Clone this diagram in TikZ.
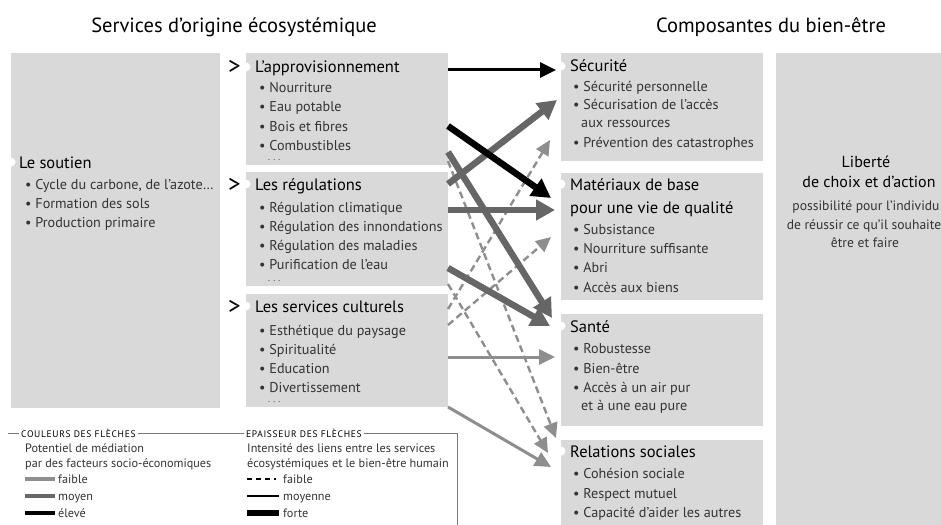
\documentclass[tikz,border=0pt]{standalone}
\usepackage{fontspec}
\setmainfont{PT Sans}
\newfontfamily\capsfont[LetterSpace=7]{PT Sans}
\usetikzlibrary{arrows.meta}
\definecolor{boxgray}{HTML}{D9D9D9}
\definecolor{itemtext}{HTML}{333333}
\definecolor{lvlmid}{HTML}{666666}
\definecolor{lvllow}{HTML}{8E8E8E}
\definecolor{framegray}{HTML}{7A7A7A}
\begin{document}
\begin{tikzpicture}[x=1pt,y=-1pt,
  panel/.style={fill=boxgray, draw=none, inner sep=0pt, outer sep=0pt, anchor=north west},
  title/.style={font=\fontsize{20.5}{22}\selectfont, anchor=base, inner sep=0pt},
  head/.style={font=\fontsize{16.5}{18}\selectfont, anchor=base west, inner sep=0pt},
  centerhead/.style={font=\fontsize{16}{18}\selectfont, anchor=base, inner sep=0pt},
  item/.style={font=\fontsize{14.2}{16}\selectfont, text=itemtext, anchor=base west, inner sep=0pt},
  centeritem/.style={font=\fontsize{13.6}{16}\selectfont, text=itemtext, anchor=base, inner sep=0pt},
  more/.style={font=\fontsize{9}{9}\selectfont, text=itemtext, anchor=base west, inner sep=0pt},
  notch/.style={circle, fill=white, minimum size=9pt, inner sep=0pt},
  chev/.style={font=\fontsize{25}{25}\selectfont, anchor=base west, inner sep=0pt},
  caption/.style={font=\capsfont\fontsize{9.5}{10}\selectfont, fill=white, inner xsep=2pt, inner ysep=1pt, anchor=west},
  legtext/.style={font=\fontsize{12.2}{13}\selectfont, text=itemtext, anchor=base west, inner sep=0pt},
  strong/.style={line width=6.5pt, -{Triangle[length=19pt,width=20pt]}},
  medium/.style={line width=3pt, -{Triangle[length=16pt,width=15pt]}},
  weak/.style={line width=2.4pt, dash pattern=on 7pt off 4pt, -{Triangle[length=15pt,width=14pt]}},
  high/.style={color=black}, mid/.style={color=lvlmid}, low/.style={color=lvllow},
]
\useasboundingbox (0,0) rectangle (941,524);
\clip (0,0) rectangle (941,524);

% column titles
\node[title] (t-left) at (234,33) {Services d'origine écosystémique};
\node[title] (t-right) at (771,33) {Composantes du bien-être};

% ecosystem service panels
\node[panel, minimum width=209pt, minimum height=355pt] (soutien) at (11,53) {};
\node[panel, minimum width=202pt, minimum height=112pt] (appro) at (246,53) {};
\node[panel, minimum width=202pt, minimum height=114pt] (regul) at (246,172) {};
\node[panel, minimum width=202pt, minimum height=113pt] (cultu) at (246,294) {};

% well-being panels
\node[panel, minimum width=202pt, minimum height=108pt] (secu) at (561,53) {};
\node[panel, minimum width=202pt, minimum height=127pt] (mater) at (561,173) {};
\node[panel, minimum width=202pt, minimum height=112pt] (sante) at (561,314) {};
\node[panel, minimum width=202pt, minimum height=90pt] (relat) at (561,440) {};
\node[panel, minimum width=175pt, minimum height=480pt] (liberte) at (776,53) {};

% white notches beside the headings
\node[notch] (n-soutien) at (11,162) {};
\node[notch] (n-appro) at (246,67) {};
\node[notch] (n-regul) at (246,184) {};
\node[notch] (n-cultu) at (246,306) {};
\node[notch] (n-secu) at (561,66) {};
\node[notch] (n-mater) at (561,184) {};
\node[notch] (n-sante) at (561,326) {};
\node[notch] (n-relat) at (561,451) {};

% chevrons
\node[chev] (c-appro) at (228,75) {>};
\node[chev] (c-regul) at (228,192) {>};
\node[chev] (c-cultu) at (228,314) {>};

% support services
\node[head] (h-soutien) at (19,168) {Le soutien};
\node[item] (soutien-1) at (25,189) {• Cycle du carbone, de l'azote\ldots};
\node[item] (soutien-2) at (25,208) {• Formation des sols};
\node[item] (soutien-3) at (25,227) {• Production primaire};

% provisioning services
\node[head] (h-appro) at (255,73) {L'approvisionnement};
\foreach \txt [count=\k] in {Nourriture, Eau potable, Bois et fibres, Combustibles}
  \node[item] (appro-\k) at (259,74+19*\k) {• \txt};
\node[more] (appro-more) at (268,160) {. . .};

% regulating services
\node[head] (h-regul) at (255,190) {Les régulations};
\foreach \txt [count=\k] in {Régulation climatique, Régulation des innondations, Régulation des maladies, Purification de l'eau}
  \node[item] (regul-\k) at (259,193+19*\k) {• \txt};
\node[more] (regul-more) at (268,281) {. . .};

% cultural services
\node[head] (h-cultu) at (255,312) {Les services culturels};
\foreach \txt [count=\k] in {Esthétique du paysage, Spiritualité, Education, Divertissement}
  \node[item] (cultu-\k) at (259,316+19*\k) {• \txt};
\node[more] (cultu-more) at (268,402) {. . .};

% security
\node[head] (h-secu) at (570,72) {Sécurité};
\node[item] (secu-1) at (573,92) {• Sécurité personnelle};
\node[item] (secu-2) at (573,110) {• Sécurisation de l'accès};
\node[item] (secu-2b) at (581,128) {aux ressources};
\node[item] (secu-3) at (573,147) {• Prévention des catastrophes};

% basic material
\node[head] (h-mater) at (570,190) {Matériaux de base};
\node[head] (h-mater2) at (570,213) {pour une vie de qualité};
\foreach \txt [count=\k] in {Subsistance, Nourriture suffisante, Abri, Accès aux biens}
  \node[item] (mater-\k) at (573,215+19.3*\k) {• \txt};

% health
\node[head] (h-sante) at (570,332) {Santé};
\node[item] (sante-1) at (573,353) {• Robustesse};
\node[item] (sante-2) at (573,373) {• Bien-être};
\node[item] (sante-3) at (573,392) {• Accès à un air pur};
\node[item] (sante-3b) at (581,410) {et à une eau pure};

% social relations
\node[head] (h-relat) at (570,457) {Relations sociales};
\node[item] (relat-1) at (573,478) {• Cohésion sociale};
\node[item] (relat-2) at (573,498) {• Respect mutuel};
\node[item] (relat-3) at (573,517) {• Capacité d'aider les autres};

% freedom of choice and action
\node[centerhead] (h-lib1) at (866,167) {Liberté};
\node[centerhead] (h-lib2) at (869,187) {de choix et d'action};
\node[centeritem] (lib-1) at (866,210) {possibilité pour l'individu};
\node[centeritem] (lib-2) at (864,229) {de réussir ce qu'il souhaite};
\node[centeritem] (lib-3) at (865,247) {être et faire};

% connector end points
\coordinate (apS1) at (448,70);   \coordinate (seA) at (556,70);
\coordinate (apS2) at (448,126);  \coordinate (maA) at (551,198);
\coordinate (apS3) at (448,152);  \coordinate (saA) at (552,318);
\coordinate (apS4) at (448,161);  \coordinate (reA) at (556,438);
\coordinate (rgS1) at (448,184);  \coordinate (seB) at (557,100);
\coordinate (rgS2) at (448,210);  \coordinate (maB) at (555,210);
\coordinate (rgS3) at (448,268);  \coordinate (saB) at (550,326);
\coordinate (rgS4) at (448,284);  \coordinate (reB) at (548,453);
\coordinate (cuS1) at (448,309);  \coordinate (seC) at (550,140);
\coordinate (cuS2) at (448,325);  \coordinate (maC) at (551,237);
\coordinate (cuS3) at (448,357);  \coordinate (saC) at (555,357);
\coordinate (cuS4) at (448,407);  \coordinate (reC) at (551,467);

% weak links
\draw[weak, low] (apS4) -- (reA);
\draw[weak, low] (rgS4) -- (reB);
\draw[weak, low] (cuS1) -- (seC);
\draw[weak, low] (cuS2) -- (maC);
% medium links
\draw[medium, low] (cuS3) -- (saC);
\draw[medium, low] (cuS4) -- (reC);
% strong links
\draw[strong, mid] (apS3) -- (saA);
\draw[strong, mid] (rgS1) -- (seB);
\draw[strong, mid] (rgS2) -- (maB);
\draw[strong, mid] (rgS3) -- (saB);
\draw[strong, high] (apS2) -- (maA);
\draw[medium, high] (apS1) -- (seA);

% legend frame
\draw[framegray, line width=0.6pt] (8,433) -- (457,433) -- (457,530);
\node[caption] (cap-col) at (19,433) {COULEURS DES FLÈCHES};
\node[caption] (cap-ep) at (244,433) {EPAISSEUR DES FLÈCHES};

% legend: colours
\node[legtext] (leg-col1) at (25,452) {Potentiel de médiation};
\node[legtext] (leg-col2) at (25,467) {par des facteurs socio-économiques};
\draw[lvllow, line width=4.5pt] (25,479) -- (55,479);
\draw[lvlmid, line width=4.5pt] (25,496) -- (55,496);
\draw[black, line width=4.5pt] (25,513) -- (55,513);
\node[legtext] (leg-low) at (58,483) {faible};
\node[legtext] (leg-mid) at (58,500) {moyen};
\node[legtext] (leg-high) at (58,517) {élevé};

% legend: widths
\node[legtext] (leg-ep1) at (247,452) {Intensité des liens entre les services};
\node[legtext] (leg-ep2) at (247,467) {écosystémiques et le bien-être humain};
\draw[black, line width=2.5pt, dash pattern=on 5pt off 4pt] (247,479) -- (276,479);
\draw[black, line width=2pt] (247,496) -- (279,496);
\draw[black, line width=6pt] (247,513) -- (279,513);
\node[legtext] (leg-weak) at (283,483) {faible};
\node[legtext] (leg-medium) at (283,500) {moyenne};
\node[legtext] (leg-strong) at (283,517) {forte};
\end{tikzpicture}
\end{document}
